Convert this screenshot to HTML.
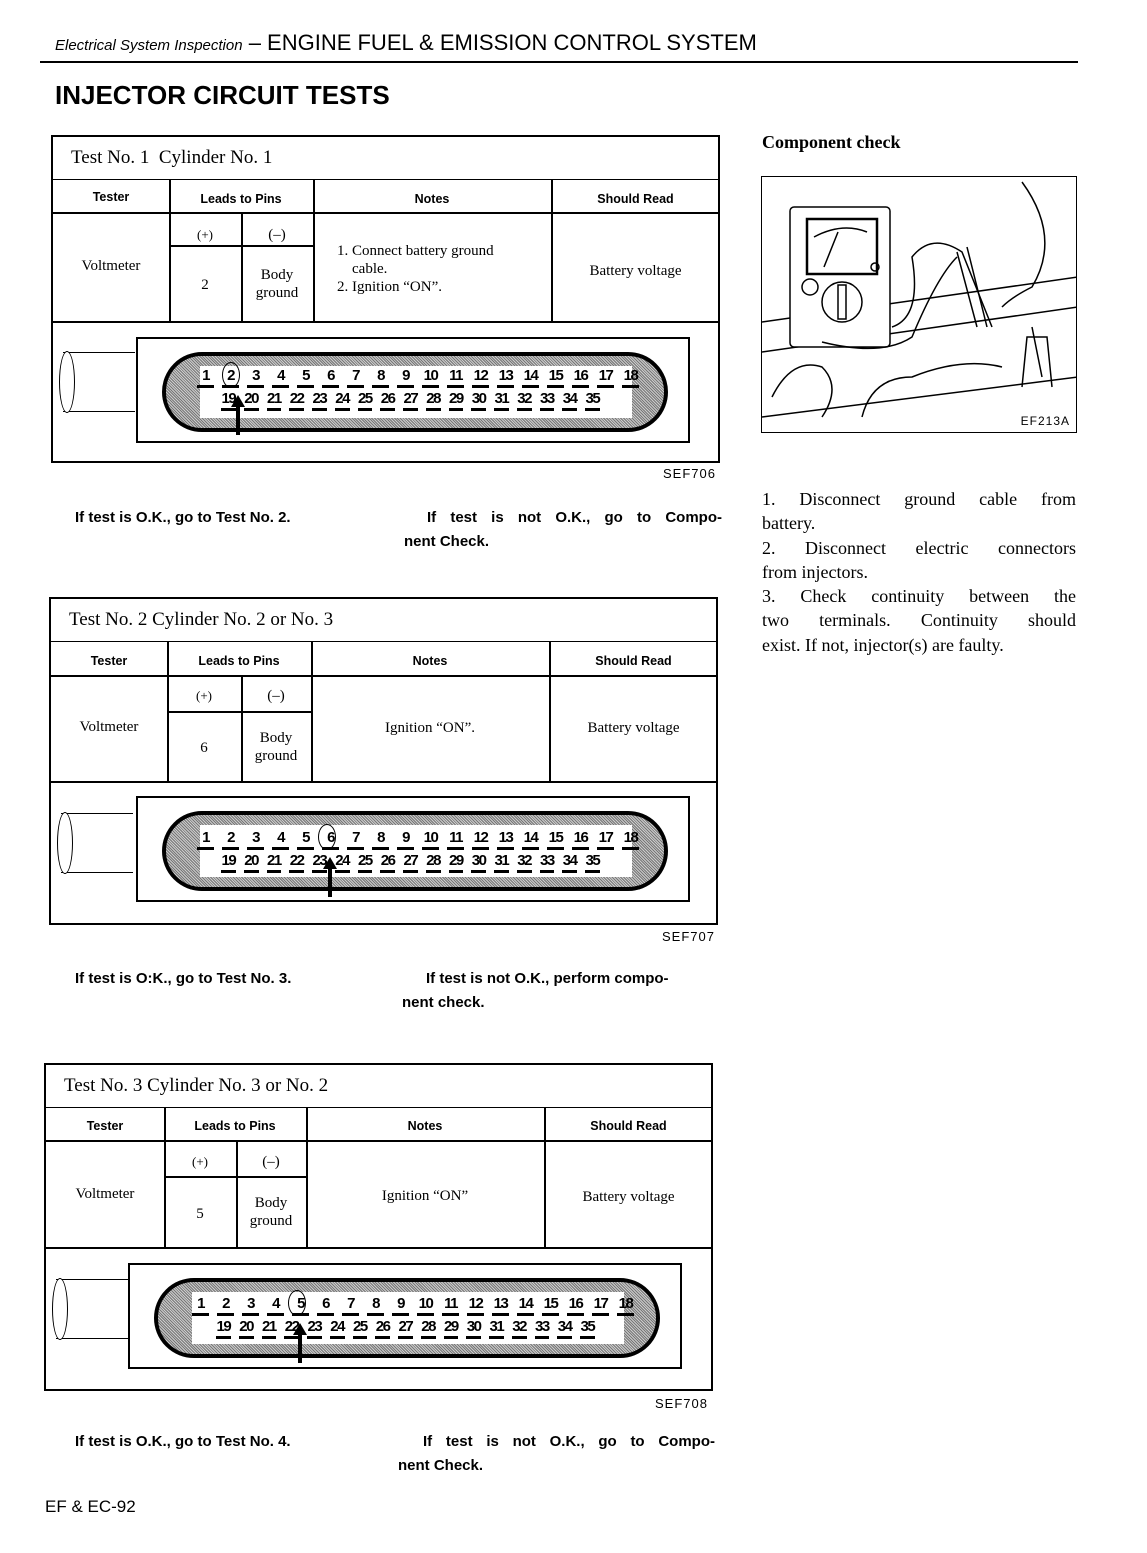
<!DOCTYPE html>
<html><head><meta charset="utf-8">
<style>
*{margin:0;padding:0;box-sizing:border-box}
body{width:1147px;height:1553px;background:#fff;position:relative;font-family:"Liberation Serif",serif;color:#000;overflow:hidden}
.a{position:absolute}
.sans{font-family:"Liberation Sans",sans-serif}
.blk{position:absolute;width:669px;height:328px;border:2px solid #000}
.blk .t{position:absolute;left:0;top:0;width:100%;height:43px;border-bottom:1.5px solid #000;font-size:19px;padding:10px 0 0 18px}
.hl{position:absolute;background:#000}
.cell{position:absolute;text-align:center;font-size:15px;line-height:18px}
.hd{font-family:"Liberation Sans",sans-serif;font-weight:bold;font-size:12.5px}
.conn{position:absolute;left:83px;top:200px;width:554px;height:106px;border:2px solid #000}
.oval{position:absolute;left:24px;top:13px;width:506px;height:80px;border-radius:40px;border:4px solid #000;
background:repeating-linear-gradient(45deg,#777 0 1px,#ccc 1px 2px)}
.win{position:absolute;left:34px;top:10px;width:432px;height:52px;background:#fff}
.row{position:absolute;display:flex;font-family:"Liberation Sans",sans-serif;font-weight:bold;font-size:15px;line-height:17px;letter-spacing:-1.5px}
.row span{display:block;text-align:center;border-bottom:3px solid #000;padding-bottom:1px;margin:0 4px}
.r1 span{width:17px}
.r2 span{width:14.75px}
.arrow{position:absolute;width:4px;height:30px;background:#000}
.arrow:before{content:"";position:absolute;left:-5px;top:-10px;border-left:7px solid transparent;border-right:7px solid transparent;border-bottom:12px solid #000}
.circ{position:absolute;width:18px;height:26px;border:1.5px solid #000;border-radius:50%}
.cable{position:absolute;left:10px;top:215px;width:72px;height:60px;border-top:1.5px solid #000;border-bottom:1.5px solid #000}
.cable:before{content:"";position:absolute;left:-4px;top:-2px;width:14px;height:60px;border:1.5px solid #000;border-radius:50%;background:#fff}
.lbl{position:absolute;font-family:"Liberation Sans",sans-serif;font-size:13px;letter-spacing:1px}
.foot{position:absolute;font-family:"Liberation Sans",sans-serif;font-weight:bold;font-size:15px;line-height:24px;white-space:nowrap}
.j{text-align:justify;text-align-last:justify;width:318px}
.rt div{text-align:justify;text-align-last:justify;height:24.3px;white-space:nowrap}
.rt div.l{text-align-last:left}
</style></head><body>

<div class="a sans" style="left:55px;top:30px;font-size:22px;"><i style="font-size:15px">Electrical System Inspection</i> – ENGINE FUEL &amp; EMISSION CONTROL SYSTEM</div>
<div class="a" style="left:40px;top:61px;width:1038px;height:2px;background:#000"></div>
<div class="a sans" style="left:55px;top:80px;font-size:26px;font-weight:bold">INJECTOR CIRCUIT TESTS</div>

<!-- TEST 1 -->
<div class="blk" style="left:51px;top:135px">
 <div class="t">Test No. 1&nbsp; Cylinder No. 1</div>
 <div class="hl" style="left:0;top:75px;width:667px;height:1.5px"></div>
 <div class="hl" style="left:0;top:184px;width:667px;height:1.5px"></div>
 <div class="hl" style="left:116px;top:43px;width:1.5px;height:141px"></div>
 <div class="hl" style="left:260px;top:43px;width:1.5px;height:141px"></div>
 <div class="hl" style="left:498px;top:43px;width:1.5px;height:141px"></div>
 <div class="hl" style="left:188px;top:76px;width:1.5px;height:108px"></div>
 <div class="hl" style="left:116px;top:108px;width:144px;height:1.5px"></div>
 <div class="cell hd" style="left:0;top:51px;width:116px">Tester</div>
 <div class="cell hd" style="left:116px;top:53px;width:144px">Leads to Pins</div>
 <div class="cell hd" style="left:260px;top:53px;width:238px">Notes</div>
 <div class="cell hd" style="left:498px;top:53px;width:169px">Should Read</div>
 <div class="cell" style="left:0;top:120px;width:116px">Voltmeter</div>
 <div class="cell" style="left:116px;top:89px;width:72px;font-size:13px">(+)</div>
 <div class="cell" style="left:188px;top:89px;width:72px">(–)</div>
 <div class="cell" style="left:116px;top:139px;width:72px">2</div>
 <div class="cell" style="left:188px;top:129px;width:72px">Body<br>ground</div>
 <div class="cell" style="left:284px;top:105px;text-align:left">1. Connect battery ground<br>&nbsp;&nbsp;&nbsp; cable.<br>2. Ignition “ON”.</div>
 <div class="cell" style="left:498px;top:125px;width:169px">Battery voltage</div>
 <div class="cable"></div>
 <div class="conn"><div class="oval"><div class="win"></div></div></div>
</div>

<!-- TEST 2 -->
<div class="blk" style="left:49px;top:597px">
 <div class="t">Test No. 2 Cylinder No. 2 or No. 3</div>
 <div class="hl" style="left:0;top:76px;width:667px;height:1.5px"></div>
 <div class="hl" style="left:0;top:182px;width:667px;height:1.5px"></div>
 <div class="hl" style="left:116px;top:43px;width:1.5px;height:139px"></div>
 <div class="hl" style="left:260px;top:43px;width:1.5px;height:139px"></div>
 <div class="hl" style="left:498px;top:43px;width:1.5px;height:139px"></div>
 <div class="hl" style="left:190px;top:77px;width:1.5px;height:105px"></div>
 <div class="hl" style="left:116px;top:112px;width:144px;height:1.5px"></div>
 <div class="cell hd" style="left:0;top:53px;width:116px">Tester</div>
 <div class="cell hd" style="left:116px;top:53px;width:144px">Leads to Pins</div>
 <div class="cell hd" style="left:260px;top:53px;width:238px">Notes</div>
 <div class="cell hd" style="left:498px;top:53px;width:169px">Should Read</div>
 <div class="cell" style="left:0;top:119px;width:116px">Voltmeter</div>
 <div class="cell" style="left:116px;top:88px;width:74px;font-size:13px">(+)</div>
 <div class="cell" style="left:190px;top:88px;width:70px">(–)</div>
 <div class="cell" style="left:116px;top:140px;width:74px">6</div>
 <div class="cell" style="left:190px;top:130px;width:70px">Body<br>ground</div>
 <div class="cell" style="left:260px;top:120px;width:238px">Ignition “ON”.</div>
 <div class="cell" style="left:498px;top:120px;width:169px">Battery voltage</div>
 <div class="cable" style="top:214px"></div>
 <div class="conn" style="left:85px;top:197px"><div class="oval"><div class="win"></div></div></div>
</div>

<!-- TEST 3 -->
<div class="blk" style="left:44px;top:1063px">
 <div class="t">Test No. 3 Cylinder No. 3 or No. 2</div>
 <div class="hl" style="left:0;top:75px;width:667px;height:1.5px"></div>
 <div class="hl" style="left:0;top:182px;width:667px;height:1.5px"></div>
 <div class="hl" style="left:118px;top:43px;width:1.5px;height:139px"></div>
 <div class="hl" style="left:260px;top:43px;width:1.5px;height:139px"></div>
 <div class="hl" style="left:498px;top:43px;width:1.5px;height:139px"></div>
 <div class="hl" style="left:190px;top:76px;width:1.5px;height:106px"></div>
 <div class="hl" style="left:118px;top:111px;width:142px;height:1.5px"></div>
 <div class="cell hd" style="left:0;top:52px;width:118px">Tester</div>
 <div class="cell hd" style="left:118px;top:52px;width:142px">Leads to Pins</div>
 <div class="cell hd" style="left:260px;top:52px;width:238px">Notes</div>
 <div class="cell hd" style="left:498px;top:52px;width:169px">Should Read</div>
 <div class="cell" style="left:0;top:120px;width:118px">Voltmeter</div>
 <div class="cell" style="left:118px;top:88px;width:72px;font-size:13px">(+)</div>
 <div class="cell" style="left:190px;top:88px;width:70px">(–)</div>
 <div class="cell" style="left:118px;top:140px;width:72px">5</div>
 <div class="cell" style="left:190px;top:129px;width:70px">Body<br>ground</div>
 <div class="cell" style="left:260px;top:122px;width:238px">Ignition “ON”</div>
 <div class="cell" style="left:498px;top:123px;width:169px">Battery voltage</div>
 <div class="cable" style="top:214px"></div>
 <div class="conn" style="left:82px;top:198px"><div class="oval"><div class="win"></div></div></div>
</div>

<!-- pins test 1 -->
<div class="row r1" style="left:193px;top:367px"><span>1</span><span>2</span><span>3</span><span>4</span><span>5</span><span>6</span><span>7</span><span>8</span><span>9</span><span>10</span><span>11</span><span>12</span><span>13</span><span>14</span><span>15</span><span>16</span><span>17</span><span>18</span></div>
<div class="row r2" style="left:217px;top:390px"><span>19</span><span>20</span><span>21</span><span>22</span><span>23</span><span>24</span><span>25</span><span>26</span><span>27</span><span>28</span><span>29</span><span>30</span><span>31</span><span>32</span><span>33</span><span>34</span><span>35</span></div>
<div class="circ" style="left:222px;top:362px"></div>
<div class="arrow" style="left:236px;top:405px"></div>
<!-- pins test 2 -->
<div class="row r1" style="left:193px;top:829px"><span>1</span><span>2</span><span>3</span><span>4</span><span>5</span><span>6</span><span>7</span><span>8</span><span>9</span><span>10</span><span>11</span><span>12</span><span>13</span><span>14</span><span>15</span><span>16</span><span>17</span><span>18</span></div>
<div class="row r2" style="left:217px;top:852px"><span>19</span><span>20</span><span>21</span><span>22</span><span>23</span><span>24</span><span>25</span><span>26</span><span>27</span><span>28</span><span>29</span><span>30</span><span>31</span><span>32</span><span>33</span><span>34</span><span>35</span></div>
<div class="circ" style="left:318px;top:824px"></div>
<div class="arrow" style="left:328px;top:867px"></div>
<!-- pins test 3 -->
<div class="row r1" style="left:188px;top:1295px"><span>1</span><span>2</span><span>3</span><span>4</span><span>5</span><span>6</span><span>7</span><span>8</span><span>9</span><span>10</span><span>11</span><span>12</span><span>13</span><span>14</span><span>15</span><span>16</span><span>17</span><span>18</span></div>
<div class="row r2" style="left:212px;top:1318px"><span>19</span><span>20</span><span>21</span><span>22</span><span>23</span><span>24</span><span>25</span><span>26</span><span>27</span><span>28</span><span>29</span><span>30</span><span>31</span><span>32</span><span>33</span><span>34</span><span>35</span></div>
<div class="circ" style="left:288px;top:1290px"></div>
<div class="arrow" style="left:298px;top:1333px"></div>

<div class="lbl" style="left:663px;top:466px">SEF706</div>
<div class="lbl" style="left:662px;top:929px">SEF707</div>
<div class="lbl" style="left:655px;top:1396px">SEF708</div>

<div class="foot" style="left:75px;top:506px">If test is O.K., go to Test No. 2.</div>
<div class="foot j" style="left:427px;top:506px;width:295px">If test is not O.K., go to Compo-</div>
<div class="foot" style="left:404px;top:530px">nent Check.</div>
<div class="foot" style="left:75px;top:967px">If test is O:K., go to Test No. 3.</div>
<div class="foot" style="left:426px;top:967px">If test is not O.K., perform compo-</div>
<div class="foot" style="left:402px;top:991px">nent check.</div>
<div class="foot" style="left:75px;top:1430px">If test is O.K., go to Test No. 4.</div>
<div class="foot j" style="left:423px;top:1430px;width:292px">If test is not O.K., go to Compo-</div>
<div class="foot" style="left:398px;top:1454px">nent Check.</div>

<div class="a sans" style="left:45px;top:1497px;font-size:17px">EF &amp; EC-92</div>

<!-- right column -->
<div class="a" style="left:762px;top:132px;font-size:18px;font-weight:bold">Component check</div>
<div class="a" style="left:761px;top:176px;width:316px;height:257px;border:1.5px solid #000;overflow:hidden">
<svg width="316" height="257" viewBox="0 0 316 257">
 <g fill="none" stroke="#000" stroke-width="1.5">
  <path d="M0 240 L316 200 M0 145 L316 100 M0 175 L316 130"/>
  <rect x="28" y="30" width="100" height="140" rx="4" fill="#fff"/>
  <rect x="45" y="42" width="70" height="55" stroke-width="2.5"/>
  <path d="M62 90 L76 55 M52 60 Q80 45 105 55"/>
  <circle cx="48" cy="110" r="8"/><circle cx="80" cy="125" r="20"/><rect x="76" y="108" width="8" height="34"/>
  <circle cx="113" cy="90" r="4"/>
  <path d="M130 150 Q160 140 150 80 Q170 55 200 75 L230 150"/>
  <path d="M60 165 Q120 180 150 160 Q175 100 195 80"/>
  <path d="M195 75 L215 150 M205 70 L225 150"/>
  <path d="M260 210 L265 160 L285 160 L290 210 M270 150 L280 200"/>
  <path d="M100 240 Q110 200 150 200 Q200 180 240 190"/>
  <path d="M10 220 Q30 180 60 190 Q80 210 60 240"/>
  <path d="M260 5 Q300 60 270 110 Q250 120 240 130"/>
 </g>
</svg>
<div class="a sans" style="right:6px;bottom:4px;font-size:12px;letter-spacing:1px;background:#fff">EF213A</div>
</div>

<div class="a rt" style="left:762px;top:487px;width:314px;font-size:18px;line-height:24.3px">
<div>1. Disconnect ground cable from</div>
<div class="l">battery.</div>
<div>2. Disconnect electric connectors</div>
<div class="l">from injectors.</div>
<div>3. Check continuity between the</div>
<div>two terminals. Continuity should</div>
<div class="l">exist. If not, injector(s) are faulty.</div>
</div>
</body></html>
